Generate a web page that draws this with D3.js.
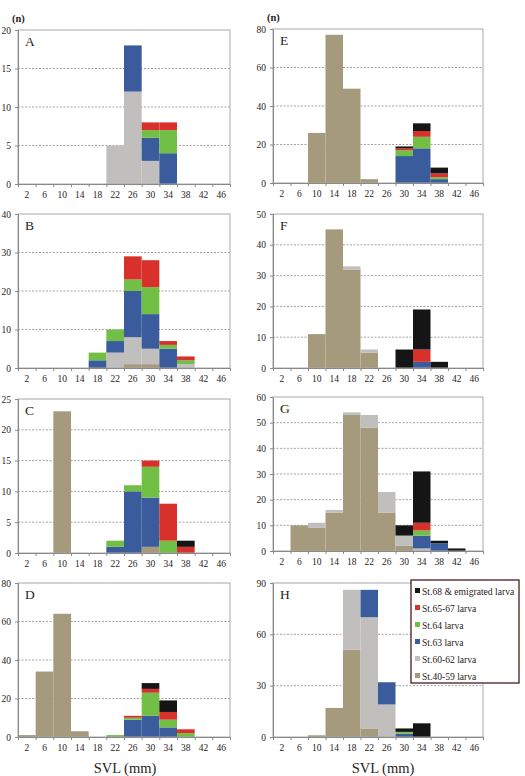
<!DOCTYPE html>
<html><head><meta charset="utf-8">
<script src="https://cdn.jsdelivr.net/npm/d3@7"></script>
<style>
html,body{margin:0;padding:0;background:#fff;}
svg text{font-family:"Liberation Serif","Times New Roman","DejaVu Serif",serif !important;}
</style></head>
<body><svg id="chart" width="525" height="776"></svg>
<script>
// ---- data ----
const binCenters = [2,6,10,14,18,22,26,30,34,38,42,46];
const seriesNames = ["St.40-59 larva","St.60-62 larva","St.63 larva","St.64 larva","St.65-67 larva","St.68 & emigrated larva"];
const seriesColors = ["#a59a7b","#c1bebe","#3b5c9c","#72bf46","#d8302a","#151515"];
const panelLabels = ["A","B","C","D","E","F","G","H"];
const yMaxes = [20,40,25,80,80,50,60,90];
const ySteps = [5,10,5,20,20,10,10,30];

// rows: St.40-59, St.60-62, St.63, St.64, St.65-67, St.68
const dataA = [
 [0,0,0,0,0,0,0,0,0,0,0,0],
 [0,0,0,0,0,5,12,3,0,0,0,0],
 [0,0,0,0,0,0,6,3,4,0,0,0],
 [0,0,0,0,0,0,0,1,3,0,0,0],
 [0,0,0,0,0,0,0,1,1,0,0,0],
 [0,0,0,0,0,0,0,0,0,0,0,0]];
const dataB = [
 [0,0,0,0,0,0,1,1,0,0,0,0],
 [0,0,0,0,0,4,7,4,0,1,0,0],
 [0,0,0,0,2,3,12,9,5,0,0,0],
 [0,0,0,0,2,3,3,7,1,1,0,0],
 [0,0,0,0,0,0,6,7,1,1,0,0],
 [0,0,0,0,0,0,0,0,0,0,0,0]];
const dataC = [
 [0,0,23,0,0,0,0,1,0,0,0,0],
 [0,0,0,0,0,0,0,0,0,0,0,0],
 [0,0,0,0,0,1,10,8,0,0,0,0],
 [0,0,0,0,0,1,1,5,2,0,0,0],
 [0,0,0,0,0,0,0,1,6,1,0,0],
 [0,0,0,0,0,0,0,0,0,1,0,0]];
const dataD = [
 [1,34,64,3,0,0,0,0,0,0,0,0],
 [0,0,0,0,0,0,0,0,0,0,0,0],
 [0,0,0,0,0,0,9,11,5,0,0,0],
 [0,0,0,0,0,1,1,12,4,2,0,0],
 [0,0,0,0,0,0,1,2,4,2,0,0],
 [0,0,0,0,0,0,0,3,6,0,0,0]];
const dataE = [
 [0,0,26,77,49,2,0,0,0,0,0,0],
 [0,0,0,0,0,0,0,0,0,0,0,0],
 [0,0,0,0,0,0,0,14,18,2,0,0],
 [0,0,0,0,0,0,0,3,6,1,0,0],
 [0,0,0,0,0,0,0,1,3,2,0,0],
 [0,0,0,0,0,0,0,1,4,3,0,0]];
const dataF = [
 [0,0,11,45,32,5,0,0,0,0,0,0],
 [0,0,0,0,1,1,0,0,0,0,0,0],
 [0,0,0,0,0,0,0,0,2,0,0,0],
 [0,0,0,0,0,0,0,0,0,0,0,0],
 [0,0,0,0,0,0,0,0,4,0,0,0],
 [0,0,0,0,0,0,0,6,13,2,0,0]];
const dataG = [
 [0,10,9,15,53,48,15,2,0,0,0,0],
 [0,0,2,1,1,5,8,4,1,0,0,0],
 [0,0,0,0,0,0,0,0,5,3,0,0],
 [0,0,0,0,0,0,0,0,2,0,0,0],
 [0,0,0,0,0,0,0,0,3,0,0,0],
 [0,0,0,0,0,0,0,4,20,1,1,0]];
const dataH = [
 [0,0,1,17,51,5,0,0,0,0,0,0],
 [0,0,0,0,35,65,19,0,0,0,0,0],
 [0,0,0,0,0,16,13,2,0,0,0,0],
 [0,0,0,0,0,0,0,1,0,0,0,0],
 [0,0,0,0,0,0,0,0,0,0,0,0],
 [0,0,0,0,0,0,0,2,8,0,0,0]];
const panelData = [dataA,dataB,dataC,dataD,dataE,dataF,dataG,dataH];

// ---- layout ----
const layout = [
 {x0:18,x1:230,top:30},{x0:18,x1:230,top:214},{x0:18,x1:230,top:399},{x0:18,x1:230,top:583},
 {x0:273,x1:483,top:29},{x0:273,x1:483,top:214},{x0:273,x1:483,top:397},{x0:273,x1:483,top:583}];
const PH = 154;
const FONT = "'Liberation Serif','Times New Roman','DejaVu Serif',serif";
const textColor = "#2a2420";
const svg = d3.select("#chart").attr("font-family", FONT);

panelData.forEach((mat, p) => {
  const L = layout[p];
  const g = svg.append("g");
  const x = d3.scaleLinear().domain([0,48]).range([L.x0, L.x1]);
  const y = d3.scaleLinear().domain([0, yMaxes[p]]).range([L.top+PH, L.top]);
  const yt = d3.range(0, yMaxes[p]+0.001, ySteps[p]);

  // gridlines
  g.selectAll("line.grid").data(yt.filter(v=>v>0 && v<yMaxes[p])).enter().append("line")
    .attr("x1", L.x0).attr("x2", L.x1).attr("y1", d=>y(d)).attr("y2", d=>y(d))
    .attr("stroke","#8a8a8a").attr("stroke-width",0.8).attr("stroke-dasharray","2,1.5");

  // stacked bars
  const rows = binCenters.map((c,i)=>{ const o={c}; mat.forEach((r,s)=>o["s"+s]=r[i]); return o; });
  const stack = d3.stack().keys(seriesNames.map((_,s)=>"s"+s))(rows);
  stack.forEach((layer, s) => {
    g.selectAll(null).data(layer.filter(d=>d[1]-d[0]>0)).enter().append("rect")
      .attr("x", d=>x(d.data.c-2)).attr("width", d=>x(d.data.c+2)-x(d.data.c-2))
      .attr("y", d=>y(d[1])).attr("height", d=>y(d[0])-y(d[1]))
      .attr("fill", seriesColors[s]);
  });

  // box
  g.append("rect").attr("x",L.x0).attr("y",L.top).attr("width",L.x1-L.x0).attr("height",PH)
    .attr("fill","none").attr("stroke","#a8a8a8").attr("stroke-width",1);

  // y axis
  const ya = g.append("g").attr("transform",`translate(${L.x0},0)`)
    .call(d3.axisLeft(y).tickValues(yt).tickSize(3).tickPadding(4).tickFormat(d3.format("d")));
  ya.attr("font-family", FONT).attr("font-size", 9.5);
  ya.select(".domain").attr("stroke","#8a8a8a");
  ya.selectAll(".tick line").attr("stroke","#8a8a8a");
  ya.selectAll("text").attr("fill",textColor);

  // x axis
  const xa = g.append("g").attr("transform",`translate(0,${L.top+PH})`)
    .call(d3.axisBottom(x).tickValues(d3.range(0,49,4)).tickSize(3).tickFormat(""));
  xa.select(".domain").attr("stroke","#8a8a8a");
  xa.selectAll(".tick line").attr("stroke","#8a8a8a");
  g.selectAll("text.xl").data(binCenters).enter().append("text")
    .attr("x", d=>x(d)).attr("y", L.top+PH+14).attr("text-anchor","middle")
    .attr("font-size",9.5).attr("fill",textColor).text(d=>d);

  // panel letter
  g.append("text").attr("x", L.x0+7).attr("y", L.top+16).attr("font-size",13.5)
    .attr("fill",textColor).text(panelLabels[p]);
  if (p===0 || p===4) {
    g.append("text").attr("x", L.x0-6).attr("y", L.top-8).attr("font-size",10.5)
      .attr("font-weight","bold").attr("fill",textColor).text("(n)");
  }
});

// x titles
svg.append("text").attr("x",125).attr("y",773).attr("text-anchor","middle")
  .attr("font-size",14.5).attr("fill",textColor).text("SVL (mm)");
svg.append("text").attr("x",383).attr("y",773).attr("text-anchor","middle")
  .attr("font-size",14.5).attr("fill",textColor).text("SVL (mm)");

// legend
const lg = svg.append("g");
lg.append("rect").attr("x",411).attr("y",580).attr("width",108).attr("height",103)
  .attr("fill","#fff").attr("stroke","#4a1c1c").attr("stroke-width",1.3);
const legOrder = d3.range(seriesNames.length).reverse();
legOrder.forEach((s,i)=>{
  const yy = 592 + i*17;
  lg.append("rect").attr("x",415).attr("y",yy-4).attr("width",5).attr("height",5).attr("fill",seriesColors[s]);
  lg.append("text").attr("x",422).attr("y",yy+3).attr("font-size",9.6).attr("fill",textColor).text(seriesNames[s]);
});
</script></body></html>
